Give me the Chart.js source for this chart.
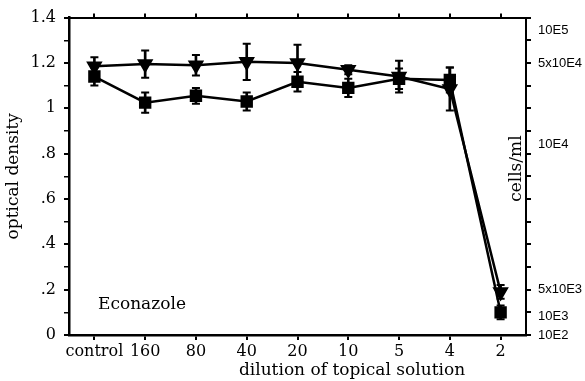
<!DOCTYPE html>
<html>
<head>
<meta charset="utf-8">
<script src="https://cdn.jsdelivr.net/npm/chart.js@4"></script>
<style>
  html, body { margin: 0; padding: 0; background: #fff; }
</style>
</head>
<body>
<canvas id="chart" width="585" height="381"></canvas>
<script>
/* ── Data ── */
const dilutions = ['control', '160', '80', '40', '20', '10', '5', '4', '2'];

// inverted triangles
const triMean = [1.185, 1.195, 1.19, 1.205, 1.20, 1.17, 1.14, 1.085, 0.19];
const triErr  = [0.04, 0.06, 0.045, 0.08, 0.08, 0.02, 0.07, 0.095, 0.03];

// squares
const sqMean  = [1.14, 1.025, 1.055, 1.03, 1.117, 1.09, 1.13, 1.125, 0.10];
const sqErr   = [0.04, 0.045, 0.035, 0.04, 0.043, 0.04, 0.045, 0.055, 0.03];

// left axis (optical density), every 0.2
const odTickLabels = ['0', '.2', '.4', '.6', '.8', '1', '1.2', '1.4'];

// right axis (cells/ml), labels placed at OD-axis values
const cellTickLabels = ['10E5', '5x10E4', '10E4', '5x10E3', '10E3', '10E2'];
const cellTickAt     = [1.345, 1.2, 0.84, 0.2, 0.08, 0];

const noteText   = 'Econazole';
const xTitleText = 'dilution of topical solution';
const y2Text     = 'cells/ml';

/* ── Helpers ── */
const BLACK = '#000';
const SERIF = '"DejaVu Serif", "Liberation Serif", serif';
const SANS  = '"Liberation Sans", Arial, sans-serif';

const range = (mean, err) => mean.map((m, i) => [m - err[i], m + err[i]]);
const upper = (mean, err) => mean.map((m, i) => m + err[i]);
const lower = (mean, err) => mean.map((m, i) => m - err[i]);
const isTenth = v => Math.abs(v * 10 - Math.round(v * 10)) < 1e-6;

function errStem(data) {
  return { type: 'bar', data, backgroundColor: BLACK, borderWidth: 0,
           barThickness: 2, grouped: false };
}
function errCap(data) {
  return { type: 'line', data, showLine: false, pointStyle: 'line',
           pointRadius: 4, pointBorderWidth: 2, pointBorderColor: BLACK,
           pointBackgroundColor: BLACK, borderColor: BLACK };
}

/* Free texts inside the plot and the offset x title */
const freeText = {
  id: 'freeText',
  afterDraw(chart) {
    const { ctx, chartArea: a } = chart;
    ctx.save();
    ctx.fillStyle = BLACK;
    ctx.font = '17px ' + SERIF;
    ctx.textBaseline = 'middle';
    ctx.textAlign = 'left';
    ctx.fillText(noteText, a.left + 29, a.bottom - 30);
    ctx.textAlign = 'center';
    ctx.fillText(xTitleText, a.left + 283, a.bottom + 36);
    ctx.translate(a.right - 9, a.top + 151);
    ctx.rotate(-Math.PI / 2);
    ctx.fillText(y2Text, 0, 0);
    ctx.restore();
  }
};

/* ── Chart ── */
new Chart(document.getElementById('chart'), {
  type: 'line',
  data: {
    labels: dilutions,
    datasets: [
      errStem(range(triMean, triErr)),
      errStem(range(sqMean, sqErr)),
      errCap(upper(triMean, triErr)),
      errCap(lower(triMean, triErr)),
      errCap(upper(sqMean, sqErr)),
      errCap(lower(sqMean, sqErr)),
      {
        data: triMean,
        borderColor: BLACK, borderWidth: 2.5,
        pointStyle: 'triangle', pointRotation: 180, pointRadius: 7,
        pointBackgroundColor: BLACK, pointBorderColor: BLACK,
      },
      {
        data: sqMean,
        borderColor: BLACK, borderWidth: 2.5,
        pointStyle: 'rect', pointRadius: 7,
        pointBackgroundColor: BLACK, pointBorderColor: BLACK,
      },
    ],
  },
  options: {
    responsive: false,
    animation: false,
    layout: { padding: 0 },
    plugins: { legend: { display: false }, tooltip: { enabled: false } },
    scales: {
      x: {
        type: 'category', position: 'bottom', offset: true,
        grid: { offset: false, drawOnChartArea: false, color: BLACK, tickLength: 5, lineWidth: 2 },
        border: { color: BLACK, width: 2.5 },
        ticks: { color: BLACK, font: { family: SERIF, size: 16 }, padding: 2,
                 autoSkip: false, maxRotation: 0 },
        afterFit: s => { s.height = 46; },
      },
      x2: {
        type: 'category', position: 'top', offset: true,
        grid: { offset: false, drawOnChartArea: false, color: BLACK, tickLength: 4, lineWidth: 2 },
        border: { color: BLACK, width: 2 },
        ticks: { display: false },
        afterFit: s => { s.height = 17; },
      },
      y: {
        type: 'linear', position: 'left', min: 0, max: 1.4,
        grid: { drawOnChartArea: false, color: BLACK, tickLength: 5,
                lineWidth: c => (Math.round(c.tick.value * 10) % 2 ? 1.5 : 2) },
        border: { color: BLACK, width: 2.5 },
        ticks: {
          stepSize: 0.1, autoSkip: false, color: BLACK, padding: 8,
          font: { family: SERIF, size: 16 },
          callback: v => {
            const k = Math.round(v * 10);
            return k % 2 ? '' : odTickLabels[k / 2];
          },
        },
        title: { display: true, text: 'optical density', color: BLACK,
                 font: { family: SERIF, size: 17 }, padding: { top: 3, bottom: 0 } },
        afterFit: s => { s.width = 69; },
      },
      y2: {
        type: 'linear', position: 'right', min: 0, max: 1.4,
        afterBuildTicks: axis => {
          const vals = [];
          for (let k = 0; k <= 14; k++) vals.push(k / 10);
          cellTickAt.forEach(v => { if (!isTenth(v)) vals.push(v); });
          vals.sort((a, b) => a - b);
          axis.ticks = vals.map(value => ({ value }));
        },
        grid: { drawOnChartArea: false, tickLength: 5, lineWidth: 2,
                color: c => (c.tick && isTenth(c.tick.value) ? BLACK : 'rgba(0,0,0,0)') },
        border: { color: BLACK, width: 2 },
        ticks: {
          autoSkip: false, color: BLACK, padding: 7,
          font: { family: SANS, size: 13 },
          callback: v => {
            const i = cellTickAt.findIndex(t => Math.abs(t - v) < 1e-6);
            return i < 0 ? '' : cellTickLabels[i];
          },
        },
        afterFit: s => { s.width = 59; },
      },
    },
  },
  plugins: [freeText],
});
</script>
</body>
</html>
